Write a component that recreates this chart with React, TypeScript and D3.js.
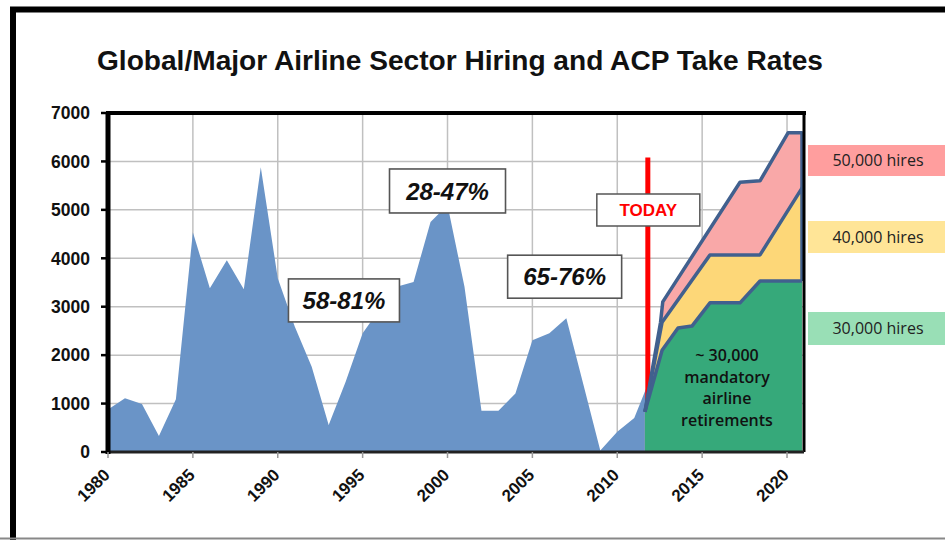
import React from "react";
import * as d3 from "d3";

// ---- Data ----
const histYears = [1980, 1981, 1982, 1983, 1984, 1985, 1986, 1987, 1988, 1989, 1990, 1991, 1992, 1993, 1994, 1995, 1996, 1997, 1998, 1999, 2000, 2001, 2002, 2003, 2004, 2005, 2006, 2007, 2008, 2009, 2010, 2011, 2011.8];
const histHires = [880, 1110, 990, 330, 1090, 4540, 3380, 3960, 3360, 5880, 3590, 2590, 1760, 560, 1450, 2450, 2950, 3410, 3510, 4750, 5100, 3410, 850, 850, 1210, 2310, 2450, 2760, 1400, 30, 420, 700, 1400];

const proj30Years = [2011.63, 2012.64, 2013.58, 2014.4, 2015.46, 2017.23, 2018.41, 2020.88];
const proj30Hires = [830, 2100, 2560, 2600, 3080, 3080, 3530, 3530];

const proj40Years = [2011.63, 2012.64, 2015.46, 2018.41, 2020.88];
const proj40Hires = [830, 2680, 4070, 4070, 5450];

const proj50Years = [2011.63, 2012.55, 2012.68, 2017.23, 2018.41, 2020.06, 2020.88];
const proj50Hires = [830, 2680, 3100, 5570, 5600, 6590, 6590];

const todayYear = 2011.8;
const todayTop = 6080;

const yTickValues = [0, 1000, 2000, 3000, 4000, 5000, 6000, 7000];
const xTickValues = [1980, 1985, 1990, 1995, 2000, 2005, 2010, 2015, 2020];

const takeRateLabels = ["58-81%", "28-47%", "65-76%"];
const scenarioLabels = ["50,000 hires", "40,000 hires", "30,000 hires"];
const retirementLines = ["~ 30,000", "mandatory", "airline", "retirements"];

const TITLE = "Global/Major Airline Sector Hiring and ACP Take Rates";

const zip = (xs: number[], ys: number[]): [number, number][] => xs.map((v, i) => [v, ys[i]]);

export default function App() {
  const x = d3.scaleLinear().domain([1980, 2021]).range([108, 804]);
  const y = d3.scaleLinear().domain([0, 7000]).range([452, 113]);

  const area = d3
    .area<[number, number]>()
    .x((d) => x(d[0]))
    .y0(y(0))
    .y1((d) => y(d[1]));
  const line = d3
    .line<[number, number]>()
    .x((d) => x(d[0]))
    .y((d) => y(d[1]));

  const hist = zip(histYears, histHires);
  const p30 = zip(proj30Years, proj30Hires);
  const p40 = zip(proj40Years, proj40Hires);
  const p50 = zip(proj50Years, proj50Hires);

  const last = (a: [number, number][]) => a[a.length - 1];
  const p50Outline: [number, number][] = [...p50, [last(p50)[0], last(p40)[1]]];
  const p40Outline: [number, number][] = [...p40, [last(p40)[0], last(p30)[1]]];

  const ff = "'Liberation Sans', Arial, sans-serif";
  const outline = "#41608E";

  const boxes = [
    { label: takeRateLabels[0], cx: x(1993.9), cy: y(3130), w: 111, h: 43 },
    { label: takeRateLabels[1], cx: x(2000), cy: y(5390), w: 116, h: 44 },
    { label: takeRateLabels[2], cx: x(2006.9), cy: y(3620), w: 114, h: 43 },
  ];

  const scen = [
    { label: scenarioLabels[0], top: 145, h: 31, fill: "#FF9E9E" },
    { label: scenarioLabels[1], top: 221, h: 32, fill: "#FFE597" },
    { label: scenarioLabels[2], top: 312, h: 33, fill: "#99DFB6" },
  ];

  return (
    <svg
      width={945}
      height={540}
      style={{ position: "absolute", left: 0, top: 0, background: "#fff" }}
      fontFamily={ff}
    >
      <rect x={0} y={0} width={945} height={540} fill="#fff" />
      <path d="M13,540 V9.5 H945" fill="none" stroke="#000" strokeWidth={6} />
      <line x1={0} x2={945} y1={538.5} y2={538.5} stroke="#888" strokeWidth={2} />

      <text
        x={460}
        y={70}
        textAnchor="middle"
        fontSize={27}
        fontWeight="bold"
        fill="#111"
        textLength={726}
        lengthAdjust="spacingAndGlyphs"
      >
        {TITLE}
      </text>

      {yTickValues.map((v) => (
        <line key={"gy" + v} x1={x(1980)} x2={x(2021)} y1={y(v)} y2={y(v)} stroke="#C0C0C0" strokeWidth={1.5} />
      ))}
      {xTickValues.map((v) => (
        <line key={"gx" + v} x1={x(v)} x2={x(v)} y1={y(7000)} y2={y(0)} stroke="#C0C0C0" strokeWidth={1.5} />
      ))}

      <path d={area(hist) || ""} fill="#6A94C7" />

      <line x1={x(todayYear)} x2={x(todayYear)} y1={y(todayTop)} y2={y(0)} stroke="#FF0000" strokeWidth={5} />

      <path d={area(p50) || ""} fill="#F9A8A8" />
      <path d={area(p40) || ""} fill="#FDD778" />
      <path d={area(p30) || ""} fill="#25A57B" fillOpacity={0.92} />
      <path d={line(p50Outline) || ""} fill="none" stroke={outline} strokeWidth={3.5} strokeLinejoin="round" />
      <path d={line(p40Outline) || ""} fill="none" stroke={outline} strokeWidth={3.5} strokeLinejoin="round" />
      <path d={line(p30) || ""} fill="none" stroke={outline} strokeWidth={3.5} strokeLinejoin="round" />

      <line x1={x(1980) - 2} x2={x(2021) + 2} y1={y(7000)} y2={y(7000)} stroke="#000" strokeWidth={4} />
      <line x1={x(2021)} x2={x(2021)} y1={y(7000)} y2={y(0)} stroke="#000" strokeWidth={3} />
      <line x1={x(1980)} x2={x(2021)} y1={y(0)} y2={y(0)} stroke="#222" strokeWidth={3} />
      <line x1={x(1980)} x2={x(1980)} y1={y(7000)} y2={y(0) + 2} stroke="#000" strokeWidth={5} />
      {yTickValues.map((v) => (
        <line key={"ty" + v} x1={x(1980) - 7} x2={x(1980)} y1={y(v)} y2={y(v)} stroke="#000" strokeWidth={2.5} />
      ))}
      {xTickValues.map((v) => (
        <line key={"tx" + v} x1={x(v)} x2={x(v)} y1={y(0)} y2={y(0) + 6} stroke="#999" strokeWidth={1.5} />
      ))}

      {yTickValues.map((v) => (
        <text key={"ly" + v} x={90} y={y(v)} dy="0.36em" textAnchor="end" fontSize={17.5} fontWeight="bold" fill="#111">
          {v}
        </text>
      ))}
      {xTickValues.map((v) => (
        <text
          key={"lx" + v}
          transform={`translate(${x(v) + 3},${476}) rotate(-45)`}
          textAnchor="end"
          fontSize={17}
          fontWeight="bold"
          fill="#111"
        >
          {v}
        </text>
      ))}

      {boxes.map((b) => (
        <g key={b.label}>
          <rect x={b.cx - b.w / 2} y={b.cy - b.h / 2} width={b.w} height={b.h} fill="#fff" stroke="#555" strokeWidth={1.6} />
          <text x={b.cx} y={b.cy} dy="0.36em" textAnchor="middle" fontSize={24} fontWeight="bold" fontStyle="italic" fill="#111">
            {b.label}
          </text>
        </g>
      ))}

      <rect x={x(todayYear) - 51} y={194} width={103} height={32} fill="#fff" stroke="#555" strokeWidth={1.5} />
      <text x={x(todayYear) + 0.5} y={210} dy="0.36em" textAnchor="middle" fontSize={17} fontWeight="bold" fill="#FF0000">
        TODAY
      </text>

      {retirementLines.map((t, i) => (
        <text
          key={t}
          x={727}
          y={361 + i * 21.5}
          textAnchor="middle"
          fontSize={16}
          fontWeight={600}
          fontFamily="'Open Sans', sans-serif"
          fill="#111"
        >
          {t}
        </text>
      ))}

      {scen.map((s) => (
        <g key={s.label}>
          <rect x={808} y={s.top} width={140} height={s.h} fill={s.fill} />
          <text
            x={878}
            y={s.top + s.h / 2}
            dy="0.36em"
            textAnchor="middle"
            fontSize={16}
            fontWeight={500}
            fontFamily="'Open Sans', sans-serif"
            fill="#222"
          >
            {s.label}
          </text>
        </g>
      ))}
    </svg>
  );
}
